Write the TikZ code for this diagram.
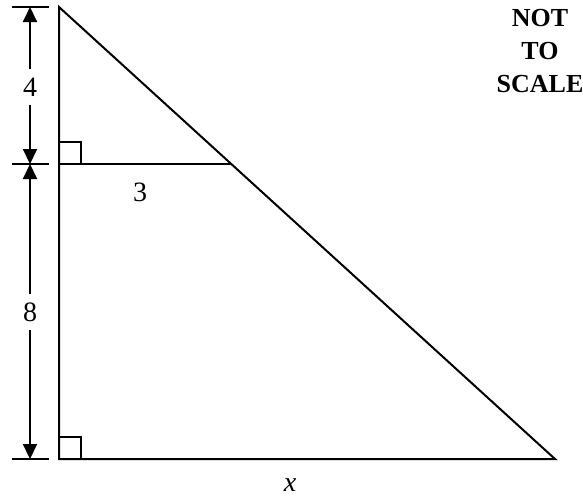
\documentclass[tikz,border=0pt]{standalone}
\usepackage{fontspec}
\setmainfont{Liberation Serif}
\usetikzlibrary{arrows.meta}

\begin{document}
\begin{tikzpicture}[
  x=0.5pt,y=-0.5pt,
  edge/.style={line width=1pt, line join=miter},
  dimline/.style={line width=1pt, -{Triangle[width=7pt,length=7.5pt]}},
  tick/.style={line width=1pt},
  lbl/.style={font=\fontsize{14}{16}\selectfont, fill=white, inner sep=4pt}
]
\useasboundingbox (0,0) rectangle (583,499);

% triangle corners
\coordinate (apex) at (59,7);
\coordinate (mid) at (59,164);
\coordinate (base) at (59,459);
\coordinate (right) at (555,459);
\coordinate (cut) at (231,164);

\draw[edge] (apex) -- (base) -- (right) -- cycle;
\draw[edge] (mid) -- (cut);

% right angle marks
\draw[edge] (59,142) rectangle (81,164);
\draw[edge] (59,437) rectangle (81,459);

% dimension ticks
\coordinate (ttop) at (30,7);
\coordinate (tmid) at (30,164);
\coordinate (tbot) at (30,459);
\draw[tick] (12,7) -- (49,7);
\draw[tick] (12,164) -- (49,164);
\draw[tick] (12,459) -- (49,459);

\node[lbl] (four) at (30,87) {4};
\node[lbl] (eight) at (30,312) {8};
\draw[dimline] (four) -- (ttop);
\draw[dimline] (four) -- (tmid);
\draw[dimline] (eight) -- (tmid);
\draw[dimline] (eight) -- (tbot);

\node[font=\fontsize{14}{16}\selectfont] (three) at (140,192) {3};
\node[font=\fontsize{14}{16}\selectfont\itshape] (xlen) at (290,485) {x};

\node[font=\fontsize{13}{16.5}\selectfont\bfseries, align=center] (note) at (540,51) {NOT\\TO\\SCALE};
\end{tikzpicture}
\end{document}
